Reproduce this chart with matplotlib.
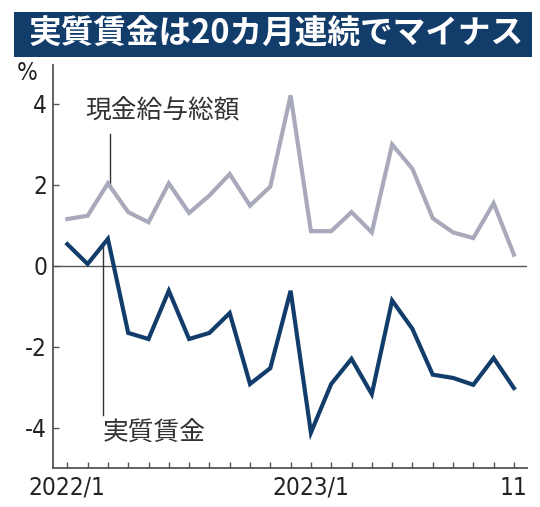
import matplotlib
matplotlib.use("Agg")
import matplotlib.pyplot as plt
from matplotlib.patches import Rectangle

# monthly series, 2022/1 .. 2023/11
months = [f"2022/{m}" for m in range(1, 13)] + [f"2023/{m}" for m in range(1, 12)]
nominal_wage = [1.15, 1.23, 2.03, 1.32, 1.07, 2.03, 1.30, 1.73, 2.26, 1.48, 1.95, 4.20,
                0.85, 0.85, 1.32, 0.82, 2.99, 2.39, 1.17, 0.82, 0.68, 1.54, 0.27]
real_wage = [0.53, 0.04, 0.66, -1.66, -1.81, -0.62, -1.81, -1.66, -1.17, -2.92, -2.53, -0.62,
             -4.12, -2.92, -2.30, -3.17, -0.86, -1.56, -2.69, -2.77, -2.94, -2.28, -3.02]
xtick_labels = {0: "2022/1", 12: "2023/1", 22: "11"}
ytick_values = [-4, -2, 0, 2, 4]

title = "実質賃金は20カ月連続でマイナス"
label_nominal = "現金給与総額"
label_real = "実質賃金"

NAVY = "#123d6b"
GRAY_LINE = "#a9a9bc"
AXIS = "#555555"
NARROW = ["DejaVu Sans"]
JP = ["Noto Sans CJK JP", "DejaVu Sans"]

fig = plt.figure(figsize=(5.4, 5.07), dpi=100)
W, H = 540, 507

# title banner
fig.patches.append(Rectangle((14 / W, 1 - 57 / H), (531.7 - 14) / W, 45 / H,
                             transform=fig.transFigure, facecolor=NAVY, edgecolor="none"))
fig.text(276 / W, 1 - 34.5 / H, title, color="white", fontsize=23.5, fontweight="bold",
         family=JP, ha="center", va="center")

ax = fig.add_axes([53.3 / W, 1 - 468.3 / H, (526.7 - 53.3) / W, (468.3 - 65) / H])
x = list(range(len(months)))

ax.axhline(0, color=AXIS, linewidth=1.0, zorder=1)
ax.plot(x, nominal_wage, color=GRAY_LINE, linewidth=3.0, solid_joinstyle="miter", zorder=3)
ax.plot(x, real_wage, color=NAVY, linewidth=3.0, solid_joinstyle="miter", zorder=3)

# leader lines and labels
ax.plot([2.1, 2.1], [3.26, 2.0], color="#333333", linewidth=1.0, zorder=2)
ax.plot([1.77, 1.77], [0.55, -3.69], color="#333333", linewidth=1.0, zorder=2)
ax.text(0.88, 3.8, label_nominal, family=JP, fontsize=18.5, color="#333333", ha="left", va="center")
ax.text(1.72, -4.16, label_real, family=JP, fontsize=18.5, color="#333333", ha="left", va="center")

ax.set_xlim(-0.69, 22.63)
ax.set_ylim(-5.0, 4.95)
ax.set_xticks(x)
ax.set_xticklabels([xtick_labels.get(i, "") for i in x])
ax.set_yticks(ytick_values)
ax.set_yticklabels([str(v) for v in ytick_values])

for s in ["top", "right"]:
    ax.spines[s].set_visible(False)
for s in ["left", "bottom"]:
    ax.spines[s].set_color(AXIS)
    ax.spines[s].set_linewidth(1.3)

ax.tick_params(axis="both", direction="in", length=4, width=1.0, color=AXIS,
               labelsize=17.5, labelcolor="#222222")
ax.tick_params(axis="y", pad=4.5)
ax.tick_params(axis="x", pad=5.5)
for lab in ax.get_xticklabels() + ax.get_yticklabels():
    lab.set_family(NARROW)
    lab.set_stretch("condensed")

fig.text(27 / W, 1 - 73 / H, "%", family=NARROW, fontsize=17.5, color="#222222",
         ha="center", va="center", stretch="condensed")

fig.savefig("out.png", dpi=100)
